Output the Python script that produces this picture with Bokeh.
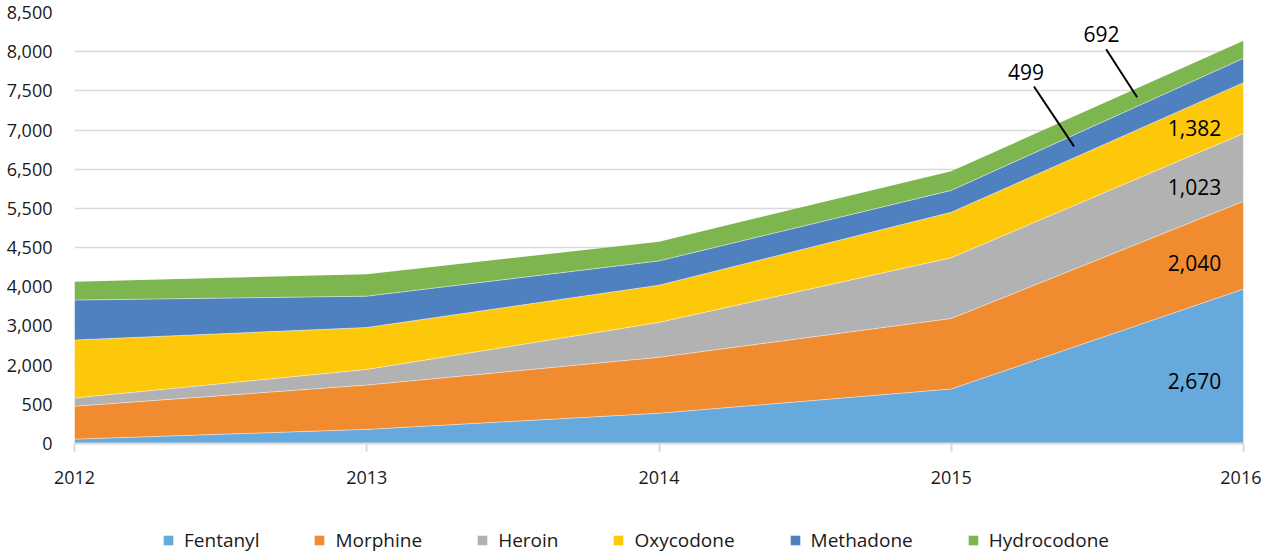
import numpy as np
from bokeh.plotting import figure
from bokeh.layouts import column
from bokeh.models import (ColumnDataSource, Range1d, FixedTicker, Legend, LegendItem, Label)
from bokeh.embed import file_html
from bokeh.resources import INLINE

# ---- data ----
years = [2012, 2013, 2014, 2015, 2016]
series = ["Fentanyl", "Morphine", "Heroin", "Oxycodone", "Methadone", "Hydrocodone"]
fentanyl = [55, 180, 385, 1085, 3940]
morphine = [420, 1055, 1815, 2105, 1740]
heroin = [265, 600, 890, 1180, 1275]
oxycodone = [1900, 1125, 930, 1030, 650]
methadone = [1020, 800, 310, 560, 310]
hydrocodone = [405, 400, 320, 490, 225]
colors = ["#66A9DC", "#F08B2F", "#B1B2B1", "#FDC70A", "#4F81C1", "#7DB54F"]

# y axis as printed in the original (unevenly labelled, evenly spaced grid)
y_tick_values = [0, 500, 2000, 3000, 4000, 4500, 5500, 6500, 7000, 7500, 8000, 8500]
y_tick_labels = ["0", "500", "2,000", "3,000", "4,000", "4,500", "5,500",
                 "6,500", "7,000", "7,500", "8,000", "8,500"]

# data labels shown for 2016
labels_2016 = ["2,670", "2,040", "1,023", "1,382", "499", "692"]

FONT = "Open Sans"

# map printed axis values to evenly spaced grid positions
grid_pos = np.arange(len(y_tick_values))
vals = np.array([fentanyl, morphine, heroin, oxycodone, methadone, hydrocodone], dtype=float)
cum = np.cumsum(vals, axis=0)
cum_pos = np.interp(cum, y_tick_values, grid_pos)
layer_pos = np.diff(np.vstack([np.zeros(len(years)), cum_pos]), axis=0)

data = {"year": years}
for name, row in zip(series, layer_pos):
    data[name] = list(row)
source = ColumnDataSource(data)

p = figure(width=1261, height=500, output_backend="svg", toolbar_location=None,
           x_range=Range1d(2012, 2016), y_range=Range1d(0, 11),
           min_border_left=74, min_border_right=18, min_border_top=12, min_border_bottom=57)
p.outline_line_color = None
p.background_fill_color = "white"

renderers = p.varea_stack(series, x="year", color=colors, source=source)
# thin light separators between layers
tops = np.cumsum(layer_pos, axis=0)
for row in tops[:-1]:
    p.line(years, list(row), line_color="white", line_alpha=0.6, line_width=0.8)

# axes
p.xaxis.ticker = FixedTicker(ticks=years)
p.xaxis.axis_line_color = "#d9d9d9"
p.xaxis.axis_line_width = 2
p.xaxis.major_tick_line_color = "#d9d9d9"
p.xaxis.major_tick_line_width = 2
p.xaxis.major_tick_in = 0
p.xaxis.major_tick_out = 8
p.xaxis.minor_tick_line_color = None
p.xaxis.major_label_standoff = 19
p.xaxis.major_label_text_font = FONT
p.xaxis.major_label_text_font_size = "18px"
p.xaxis.major_label_text_color = "#1a1a1a"

p.yaxis.ticker = FixedTicker(ticks=list(grid_pos))
p.yaxis.major_label_overrides = {int(i): l for i, l in zip(grid_pos, y_tick_labels)}
p.yaxis.axis_line_color = None
p.yaxis.major_tick_line_color = None
p.yaxis.minor_tick_line_color = None
p.yaxis.major_label_standoff = 16
p.yaxis.major_label_text_font = FONT
p.yaxis.major_label_text_font_size = "18px"
p.yaxis.major_label_text_color = "#1a1a1a"

p.xgrid.grid_line_color = None
p.ygrid.grid_line_color = "#d9d9d9"
p.ygrid.grid_line_width = 1.5
p.ygrid.level = "underlay"

# data labels (2016)
xr = 2015.924
big_y = [1.60, 4.61, 6.54, 8.04]
for txt, yy in zip(labels_2016[:4], big_y):
    p.add_layout(Label(x=xr, y=yy, text=txt, text_align="right", text_baseline="middle",
                       text_font=FONT, text_font_size="21px", text_color="black"))

# leader lines for thin layers
t499, t692 = 2015.42, 2015.636
def band_mid(layer, xx):
    lo = np.interp(xx, years, tops[layer - 1])
    hi = np.interp(xx, years, tops[layer])
    return (lo + hi) / 2
e499 = band_mid(4, t499)
e692 = band_mid(5, t692)
p.segment(x0=[2015.283, 2015.53], y0=[9.11, 10.06], x1=[t499, t692], y1=[e499, e692],
          line_color="black", line_width=2)
p.add_layout(Label(x=2015.256, y=9.47, text=labels_2016[4], text_align="center",
                   text_baseline="middle", text_font=FONT, text_font_size="21px", text_color="black"))
p.add_layout(Label(x=2015.514, y=10.46, text=labels_2016[5], text_align="center",
                   text_baseline="middle", text_font=FONT, text_font_size="21px", text_color="black"))

# ---- legend strip (a second figure holding only the legend) ----
pl = figure(width=1261, height=53, output_backend="svg", toolbar_location=None,
            x_range=Range1d(0, 1), y_range=Range1d(0, 1),
            min_border_left=0, min_border_right=0, min_border_top=0, min_border_bottom=0)
pl.outline_line_color = None
pl.axis.visible = False
pl.grid.visible = False
# stand-in swatches kept outside the visible range; only their legend glyphs show
leg_src = ColumnDataSource({"x": [5, 6], "y1": [5, 5], "y2": [6, 6]})
leg_items = []
for name, c in zip(series, colors):
    r = pl.varea(x="x", y1="y1", y2="y2", source=leg_src, fill_color=c)
    leg_items.append(LegendItem(label=name, renderers=[r]))
legend = Legend(items=leg_items, orientation="horizontal", location=(88, 0),
                glyph_width=12, glyph_height=12, label_standoff=10, spacing=54,
                padding=0, margin=0, border_line_alpha=0, background_fill_alpha=0,
                label_text_font=FONT, label_text_font_size="19px", label_text_color="#1a1a1a")
pl.add_layout(legend, "center")

layout = column(p, pl, spacing=0)
open("out.html", "w").write(file_html(layout, INLINE))
